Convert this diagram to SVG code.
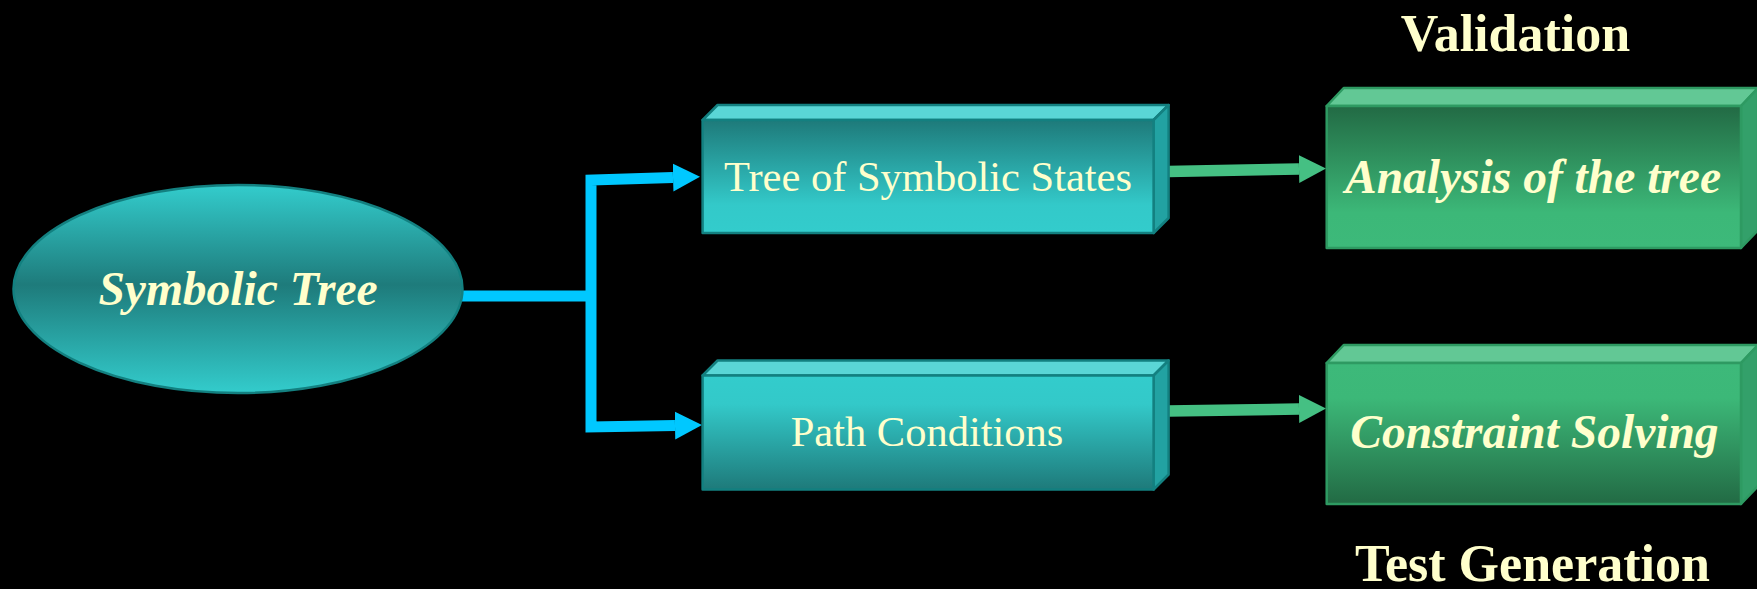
<svg xmlns="http://www.w3.org/2000/svg" width="1757" height="589" viewBox="0 0 1757 589">
  <style>
    .label { fill: #ffffcc; font-family: "Liberation Serif", "Times New Roman", serif; text-anchor: middle; }
    .plain { font-size: 42.5px; }
    .emph { font-size: 47.5px; font-weight: bold; font-style: italic; }
    .title { font-size: 52px; font-weight: bold; }
    .teal-edge { stroke: #138080; stroke-width: 2.5; stroke-linejoin: round; }
    .green-edge { stroke: #2e9a62; stroke-width: 2.5; stroke-linejoin: round; }
    .teal-top { fill: #5ad6d6; }
    .teal-side { fill: #22a2a2; }
    .green-top { fill: #62c895; }
    .green-side { fill: #33a06a; }
    .blue-link { fill: none; stroke: #00c8ff; stroke-width: 11; stroke-linejoin: miter; }
    .green-link { fill: none; stroke: #45c083; stroke-width: 11.5; }
  </style>
  <defs>
    <linearGradient id="ovalFill" x1="0" y1="0" x2="0" y2="1">
      <stop offset="0" stop-color="#33cccc"/>
      <stop offset="0.48" stop-color="#1e7b7b"/>
      <stop offset="1" stop-color="#33cccc"/>
    </linearGradient>
    <linearGradient id="tealDown" x1="0" y1="0" x2="0" y2="1">
      <stop offset="0" stop-color="#1e7a7a"/>
      <stop offset="0.75" stop-color="#33c9c9"/>
      <stop offset="1" stop-color="#33cccc"/>
    </linearGradient>
    <linearGradient id="tealUp" x1="0" y1="0" x2="0" y2="1">
      <stop offset="0" stop-color="#33cccc"/>
      <stop offset="0.25" stop-color="#33c9c9"/>
      <stop offset="1" stop-color="#1e7a7a"/>
    </linearGradient>
    <linearGradient id="greenDown" x1="0" y1="0" x2="0" y2="1">
      <stop offset="0" stop-color="#226a44"/>
      <stop offset="0.75" stop-color="#3cb878"/>
      <stop offset="1" stop-color="#3db97a"/>
    </linearGradient>
    <linearGradient id="greenUp" x1="0" y1="0" x2="0" y2="1">
      <stop offset="0" stop-color="#3db97a"/>
      <stop offset="0.25" stop-color="#3cb878"/>
      <stop offset="1" stop-color="#226a44"/>
    </linearGradient>
    <marker id="blueHead" markerUnits="userSpaceOnUse" markerWidth="30" markerHeight="30" viewBox="0 -15 30 30" refX="0" refY="0" orient="auto">
      <path d="M0,-14 L27,0 L0,14 z" fill="#00c8ff"/>
    </marker>
    <marker id="greenHead" markerUnits="userSpaceOnUse" markerWidth="30" markerHeight="30" viewBox="0 -15 30 30" refX="0" refY="0" orient="auto">
      <path d="M0,-14 L27,0 L0,14 z" fill="#45c083"/>
    </marker>
  </defs>

  <rect width="1757" height="589" fill="#000000"/>

  <!-- connectors -->
  <g id="connectors">
    <path class="blue-link" d="M460,296 H596"/>
    <path class="blue-link" d="M591,296 V180 L673,177.5" marker-end="url(#blueHead)"/>
    <path class="blue-link" d="M591,296 V427 L675,425.5" marker-end="url(#blueHead)"/>
    <path class="green-link" d="M1168,171.5 L1299,169" marker-end="url(#greenHead)"/>
    <path class="green-link" d="M1168,411 L1299,409" marker-end="url(#greenHead)"/>
  </g>

  <!-- source node -->
  <g id="symbolic-tree">
    <ellipse cx="238" cy="289" rx="224.5" ry="104" fill="url(#ovalFill)" class="teal-edge"/>
    <text class="label emph" x="238" y="305">Symbolic Tree</text>
  </g>

  <!-- intermediate blocks -->
  <g id="tree-of-states">
    <polygon class="teal-top teal-edge" points="702.6,120 717.6,105 1168.6,105 1153.6,120"/>
    <polygon class="teal-side teal-edge" points="1153.6,120 1168.6,105 1168.6,218 1153.6,233"/>
    <rect x="702.6" y="120" width="451" height="113" fill="url(#tealDown)" class="teal-edge"/>
    <text class="label plain" x="928" y="190.5">Tree of Symbolic States</text>
  </g>

  <g id="path-conditions">
    <polygon class="teal-top teal-edge" points="702.6,375.5 717.6,360.5 1168.6,360.5 1153.6,375.5"/>
    <polygon class="teal-side teal-edge" points="1153.6,375.5 1168.6,360.5 1168.6,474.5 1153.6,489.5"/>
    <rect x="702.6" y="375.5" width="451" height="114" fill="url(#tealUp)" class="teal-edge"/>
    <text class="label plain" x="927" y="446">Path Conditions</text>
  </g>

  <!-- result blocks -->
  <g id="analysis">
    <polygon class="green-top green-edge" points="1326.7,106 1343.7,88 1758,88 1741,106"/>
    <polygon class="green-side green-edge" points="1741,106 1758,88 1758,230 1741,248"/>
    <rect x="1326.7" y="106" width="414.3" height="142" fill="url(#greenDown)" class="green-edge"/>
    <text class="label emph" x="1533" y="193">Analysis of the tree</text>
  </g>

  <g id="constraint-solving">
    <polygon class="green-top green-edge" points="1326.7,363 1343.7,345 1758,345 1741,363"/>
    <polygon class="green-side green-edge" points="1741,363 1758,345 1758,486 1741,504"/>
    <rect x="1326.7" y="363" width="414.3" height="141" fill="url(#greenUp)" class="green-edge"/>
    <text class="label emph" x="1534.5" y="448">Constraint Solving</text>
  </g>

  <!-- headings -->
  <g id="heading-validation">
    <text class="label title" x="1515.5" y="51">Validation</text>
  </g>
  <g id="heading-test-generation">
    <text class="label title" x="1532.5" y="581">Test Generation</text>
  </g>
</svg>
